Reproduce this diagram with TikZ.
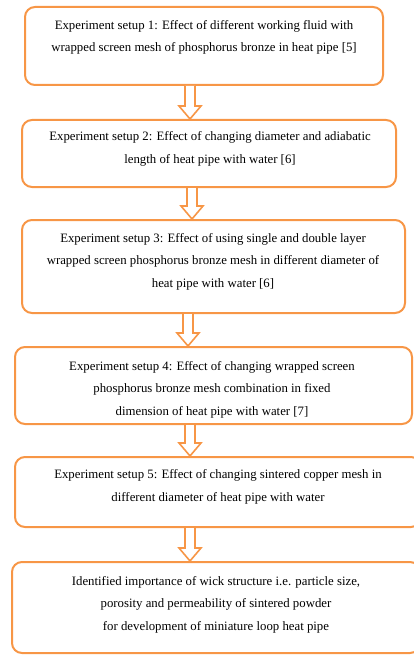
\documentclass[tikz,border=0pt]{standalone}
\usepackage{fontspec}
\setmainfont{Liberation Serif}
\definecolor{orng}{RGB}{247,150,70}
\tikzset{
  box/.style={draw=orng, line width=2pt, rounded corners=10pt, inner sep=0pt},
  txt/.style={align=center, inner sep=0pt, font=\fontsize{12.8}{22.5}\selectfont},
  hollow/.style={draw=orng, line width=1.6pt, fill=white, line join=miter}
}
\newcommand{\harrow}[2]{%
  \draw[hollow] ([xshift=-5pt]#1) -- ([xshift=-5pt,yshift=13pt]#2) -- ([xshift=-11pt,yshift=13pt]#2) -- (#2) -- ([xshift=11pt,yshift=13pt]#2) -- ([xshift=5pt,yshift=13pt]#2) -- ([xshift=5pt]#1);}
\begin{document}
\begin{tikzpicture}[x=1pt,y=-1pt]
\useasboundingbox (0,0) rectangle (414,655);
\clip (0,0) rectangle (414,655);
\node[box, minimum width=358pt, minimum height=78pt] (b1) at (204,46) {};
\node[box, minimum width=374pt, minimum height=67pt] (b2) at (209,153.5) {};
\node[box, minimum width=383pt, minimum height=93pt] (b3) at (213.5,266.5) {};
\node[box, minimum width=397pt, minimum height=77pt] (b4) at (213.5,385.5) {};
\node[box, minimum width=406pt, minimum height=70pt] (b5) at (218,492) {};
\node[box, minimum width=408pt, minimum height=91pt] (b6) at (216,607.5) {};
\node[txt] (t1) at (204,37.5) {Experiment setup 1: Effect of different working fluid with\\wrapped screen mesh of phosphorus bronze in heat pipe [5]};
\node[txt] (t2) at (210,149) {Experiment setup 2: Effect of changing diameter and adiabatic\\length of heat pipe with water [6]};
\node[txt] (t3) at (213,261.5) {Experiment setup 3: Effect of using single and double layer\\wrapped screen phosphorus bronze mesh in different diameter of\\heat pipe with water [6]};
\node[txt] (t4) at (212,389.5) {Experiment setup 4: Effect of changing wrapped screen\\phosphorus bronze mesh combination in fixed\\dimension of heat pipe with water [7]};
\node[txt] (t5) at (218,487) {Experiment setup 5: Effect of changing sintered copper mesh in\\different diameter of heat pipe with water};
\node[txt] (t6) at (216,604.5) {Identified importance of wick structure i.e. particle size,\\porosity and permeability of sintered powder\\for development of miniature loop heat pipe};
\coordinate (a1s) at (190,86); \coordinate (a1e) at (190,119);
\coordinate (a2s) at (192,188); \coordinate (a2e) at (192,219);
\coordinate (a3s) at (188,314); \coordinate (a3e) at (188,346);
\coordinate (a4s) at (190,425); \coordinate (a4e) at (190,456);
\coordinate (a5s) at (190,528); \coordinate (a5e) at (190,561);
\harrow{a1s}{a1e}
\harrow{a2s}{a2e}
\harrow{a3s}{a3e}
\harrow{a4s}{a4e}
\harrow{a5s}{a5e}
\end{tikzpicture}
\end{document}
